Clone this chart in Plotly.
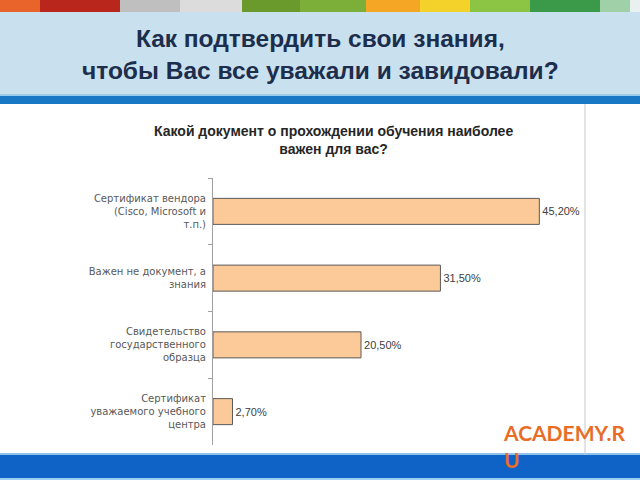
import plotly.graph_objects as go

categories = [
    "Сертификат вендора<br>(Cisco, Microsoft и<br>т.п.)",
    "Важен не документ, а<br>знания",
    "Свидетельство<br>государственного<br>образца",
    "Сертификат<br>уважаемого учебного<br>центра",
]
values = [45.2, 31.5, 20.5, 2.7]

slide_title = "Как подтвердить свои знания,<br>чтобы Вас все уважали и завидовали?"
chart_title = "Какой документ о прохождении обучения наиболее<br>важен для вас?"

W, H = 640, 480


def px(x):
    return x / W


def py(y):
    return 1 - y / H


fig = go.Figure(
    go.Bar(
        x=values,
        y=categories,
        orientation="h",
        width=0.39,
        marker=dict(color="#fcca98", line=dict(color="#5a5a5a", width=1)),
        texttemplate="%{x:.2f}%",
        textposition="outside",
        textfont=dict(family="Liberation Sans, Arial, sans-serif", size=11, color="#404040"),
        cliponaxis=False,
        hoverinfo="skip",
    )
)

shapes = []


def rect(x0, y0, x1, y1, color):
    shapes.append(dict(type="rect", xref="paper", yref="paper",
                       x0=px(x0), x1=px(x1), y0=py(y1), y1=py(y0),
                       fillcolor=color, line=dict(width=0), layer="below"))


# top image strip
strip = [
    (0, 40, "#e8642a"), (40, 120, "#b8261c"), (120, 180, "#bfbfbf"), (180, 242, "#dcdcdc"),
    (242, 300, "#6a9a2c"), (300, 366, "#7cae3a"), (366, 420, "#f6a625"), (420, 470, "#f4d22a"),
    (470, 530, "#8cc444"), (530, 600, "#3a9a4a"), (600, 630, "#9fd0a8"), (630, 640, "#e8f0f0"),
]
for x0, x1, c in strip:
    rect(x0, 0, x1, 12, c)
# light blue band
rect(0, 12, 640, 94, "#c9e0ee")
rect(0, 94, 640, 96, "#9ccbe8")
# blue stripe
rect(0, 96, 640, 104, "#1878c6")
# bottom band
rect(0, 453, 640, 455, "#8ec4ec")
rect(0, 455, 640, 478, "#0f62c6")
rect(0, 478, 640, 480, "#9ad0f2")
# right border line of chart
shapes.append(dict(type="line", xref="paper", yref="paper",
                   x0=px(585), x1=px(585), y0=py(455), y1=py(104),
                   line=dict(color="#c8c8c8", width=1), layer="below"))

annotations = [
    dict(text="<b>" + slide_title + "</b>", x=0.5, y=py(54), xref="paper", yref="paper",
         showarrow=False, xanchor="center", yanchor="middle",
         font=dict(family="Liberation Sans, Arial, sans-serif", size=24.5, color="#1d2d4c"),
         align="center"),
    dict(text="<b>" + chart_title + "</b>", x=px(333), y=py(140), xref="paper", yref="paper",
         showarrow=False, xanchor="center", yanchor="middle",
         font=dict(family="Liberation Sans, Arial, sans-serif", size=14, color="#262626"),
         align="center"),
    dict(text="<b>ACADEMY.R<br>U</b>", x=px(501), y=py(418), xref="paper", yref="paper",
         showarrow=False, xanchor="left", yanchor="top", align="left",
         font=dict(family="Lato, Open Sans, sans-serif", size=21, color="#e86e28")),
]

fig.update_layout(
    width=W, height=H,
    margin=dict(l=0, r=0, t=0, b=0),
    paper_bgcolor="white", plot_bgcolor="white",
    separators=", ",
    showlegend=False,
    shapes=shapes,
    annotations=annotations,
    xaxis=dict(domain=[px(213), px(574)], range=[0, 50], visible=False, fixedrange=True),
    yaxis=dict(
        domain=[py(445), py(178)],
        autorange="reversed",
        showline=True, linecolor="#a0a0a0", linewidth=1,
        ticks="outside", ticklen=4, tickcolor="#a0a0a0", tickson="boundaries",
        ticklabelstandoff=4,
        showgrid=False, zeroline=False,
        tickfont=dict(family="DejaVu Sans, sans-serif", size=10, color="#595959"),
        fixedrange=True,
    ),
)

fig.write_html("out.html")
